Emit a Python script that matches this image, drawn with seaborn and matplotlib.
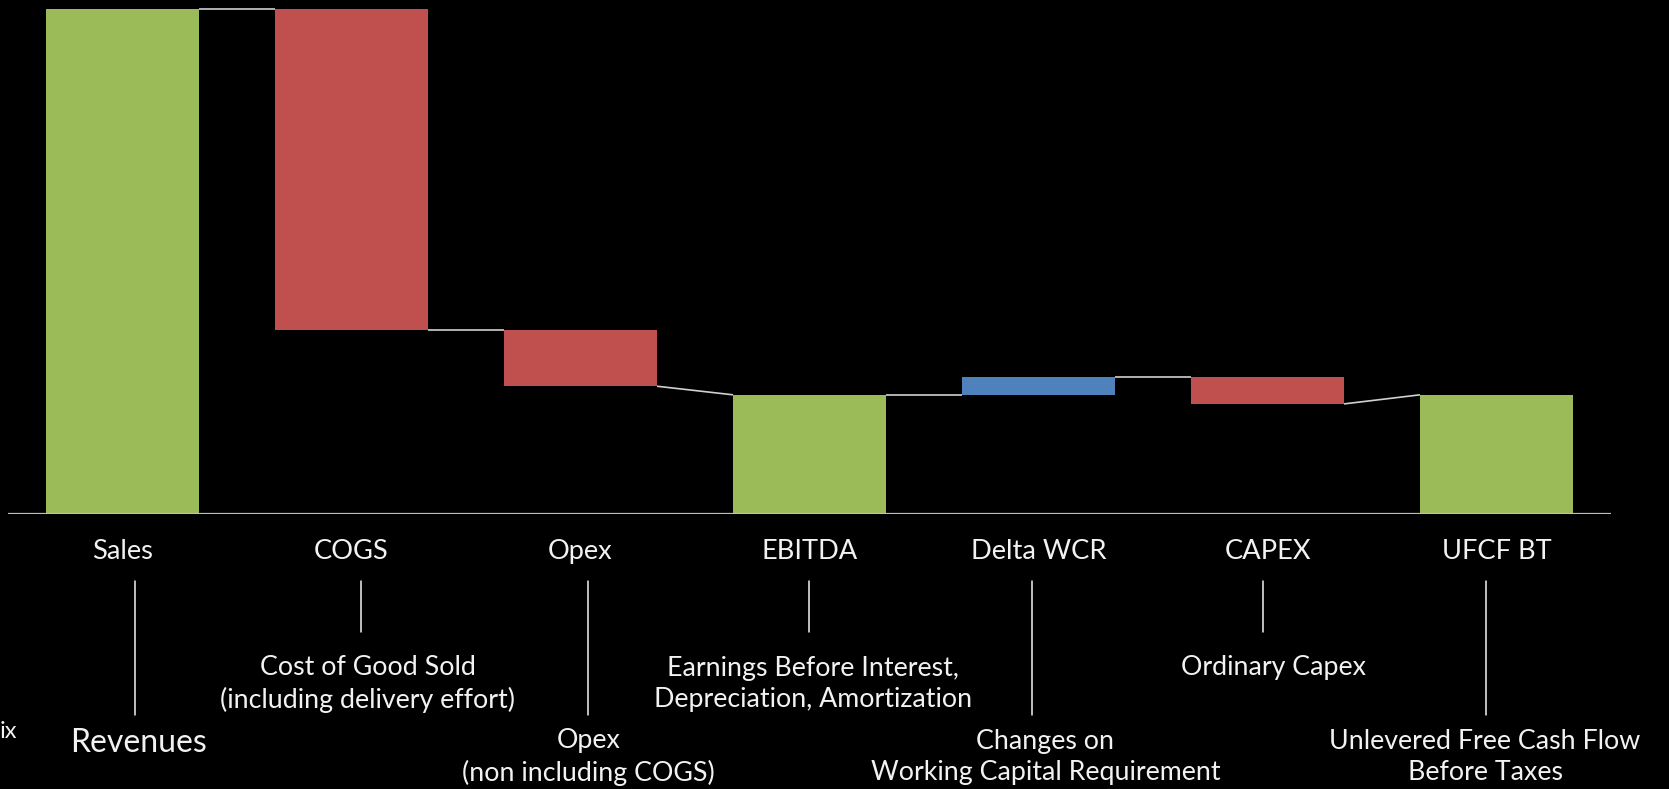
import numpy as np
import pandas as pd
import matplotlib
matplotlib.use('Agg')
import matplotlib.pyplot as plt
from matplotlib.lines import Line2D
from matplotlib.transforms import blended_transform_factory
import seaborn as sns

# waterfall data (Sales = 100)
categories = ['Sales', 'COGS', 'Opex', 'EBITDA', 'Delta WCR', 'CAPEX', 'UFCF BT']
starts = [0, 100, 36.4, 0, 23.6, 27.1, 0]
ends = [100, 36.4, 25.3, 23.6, 27.1, 21.8, 23.6]
kinds = ['total', 'neg', 'neg', 'total', 'pos', 'neg', 'total']

descriptions = ['Revenues',
                'Cost of Good Sold\n(including delivery effort)',
                'Opex\n(non including COGS)',
                'Earnings Before Interest,\nDepreciation, Amortization',
                'Changes on\nWorking Capital Requirement',
                'Ordinary Capex',
                'Unlevered Free Cash Flow\nBefore Taxes']
long_leader = [True, False, True, False, True, False, True]

colors = {'total': '#9BBB59', 'neg': '#C0504D', 'pos': '#4F81BD'}
bar_width = 0.668

sns.set_theme(style='white')
plt.rcParams['font.family'] = ['Lato', 'DejaVu Sans']

df = pd.DataFrame({'category': categories,
                   'low': np.minimum(starts, ends),
                   'high': np.maximum(starts, ends)})
df['height'] = df['high'] - df['low']

W, H = 1669, 789
fig = plt.figure(figsize=(W / 100, H / 100), dpi=100, facecolor='black')
ax = fig.add_axes([8 / W, 1 - 514 / H, 1603 / W, 514 / H])
ax.set_facecolor('black')

sns.barplot(data=df, x='category', y='height', bottom=df['low'].values,
            width=bar_width, ax=ax, errorbar=None, linewidth=0,
            color=colors['total'], saturation=1)
for patch, k in zip(ax.patches, kinds):
    patch.set_facecolor(colors[k])

# connectors between bars
for i in range(len(categories) - 1):
    y0 = ends[i]
    y1 = ends[i + 1] if kinds[i + 1] == 'total' else starts[i + 1]
    ax.plot([i + bar_width / 2, i + 1 - bar_width / 2], [y0, y1],
            color='#D0D0D0', lw=1.2, solid_capstyle='butt')

ax.axhline(0, color='#BFBFBF', lw=1.6)
ax.set_xlim(-0.5, len(categories) - 0.5)
ax.set_ylim(0, 514 / 5.05)
ax.set_yticks([])
ax.set_xlabel('')
ax.set_ylabel('')
for s in ax.spines.values():
    s.set_visible(False)
ax.tick_params(axis='x', length=0, pad=18, labelsize=19.6, labelcolor='#F2F2F2')

# leaders and descriptions under the axis
trans = blended_transform_factory(ax.transData, fig.transFigure)
leader_x = [0.055, 0.041, 0.033, -0.002, -0.028, -0.02, -0.046]
desc_dx = [0.07, 0.07, 0.035, 0.017, 0.03, 0.025, -0.05]
for i, (desc, is_long) in enumerate(zip(descriptions, long_leader)):
    y_end = 715 if is_long else 632
    ax.add_artist(Line2D([i + leader_x[i]] * 2, [1 - 581 / H, 1 - y_end / H],
                         transform=trans, color='#F2F2F2', lw=1.1, clip_on=False))
    if is_long:
        y_txt = 743 if i == 0 else 757
    else:
        y_txt = 684 if '\n' in desc else 667
    ax.text(i + desc_dx[i], 1 - y_txt / H, desc, transform=trans, ha='center',
            va='center', color='#F2F2F2', fontsize=23 if i == 0 else 19.3,
            linespacing=1.3, clip_on=False)

fig.text(0, 1 - 732 / H, 'ix', color='#F2F2F2', fontsize=17, ha='left', va='center')

fig.savefig('out.png', dpi=100, facecolor='black')
